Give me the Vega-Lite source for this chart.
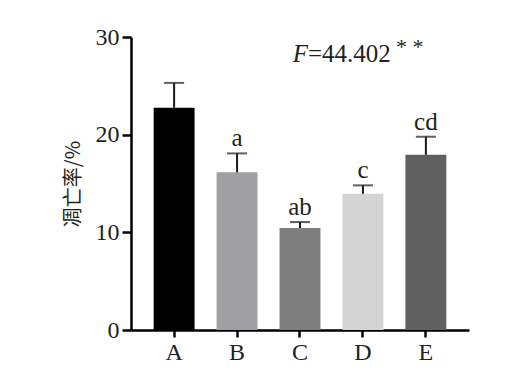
{
  "$schema": "https://vega.github.io/schema/vega-lite/v6.json",
  "autosize": {"type": "none"},
  "padding": {"left": 131, "top": 37, "right": 48, "bottom": 43},
  "width": 338,
  "height": 293,
  "background": "white",
  "config": {
    "view": {"stroke": null},
    "font": "Liberation Serif",
    "axis": {"grid": false, "domainColor": "#000000", "tickColor": "#000000", "labelColor": "#231f20", "titleColor": "#231f20", "labelFont": "Liberation Serif", "domainWidth": 2.5, "tickWidth": 2.5}
  },
  "layer": [
    {
      "data": {"values": [
        {"group": "A", "value": 22.75, "upper": 25.3, "label": ""},
        {"group": "B", "value": 16.14, "upper": 18.08, "label": "a"},
        {"group": "C", "value": 10.44, "upper": 11.05, "label": "ab"},
        {"group": "D", "value": 13.95, "upper": 14.81, "label": "c"},
        {"group": "E", "value": 17.94, "upper": 19.79, "label": "cd"}
      ]},
      "encoding": {
        "x": {"field": "group", "type": "nominal", "scale": {"paddingInner": 0.35, "paddingOuter": 0.36},
              "axis": {"title": null, "labelAngle": 0, "labelFont": "Liberation Serif", "labelFontSize": 24, "tickSize": 7, "labelPadding": 3}},
        "y": {"type": "quantitative", "scale": {"domain": [0, 30], "nice": false},
              "axis": {"values": [0, 10, 20, 30], "title": "凋亡率/%", "titleFont": "Noto Sans CJK SC", "titleFontWeight": "normal", "titleFontSize": 20, "titlePadding": 12, "labelFont": "Liberation Serif", "labelFontSize": 24, "tickSize": 9, "labelPadding": 3}}
      },
      "layer": [
        {
          "mark": {"type": "bar"},
          "encoding": {
            "y": {"field": "value", "type": "quantitative"},
            "color": {"field": "group", "type": "nominal", "legend": null,
                      "scale": {"domain": ["A", "B", "C", "D", "E"], "range": ["#000000", "#a0a0a4", "#7f7f7f", "#d4d4d4", "#606060"]}}
          }
        },
        {
          "mark": {"type": "rule", "color": "#1a1a1a", "strokeWidth": 2},
          "encoding": {
            "y": {"field": "value", "type": "quantitative"},
            "y2": {"field": "upper"}
          }
        },
        {
          "mark": {"type": "tick", "color": "#1a1a1a", "size": 20, "thickness": 2},
          "encoding": {
            "y": {"field": "upper", "type": "quantitative"}
          }
        },
        {
          "mark": {"type": "text", "fontSize": 25, "baseline": "alphabetic", "dy": -7, "color": "#231f20", "font": "Liberation Serif"},
          "encoding": {
            "y": {"field": "upper", "type": "quantitative"},
            "text": {"field": "label"}
          }
        }
      ]
    },
    {
      "data": {"values": [{"group": "D", "y": 27.45}]},
      "encoding": {
        "x": {"field": "group", "type": "nominal"},
        "y": {"field": "y", "type": "quantitative"}
      },
      "layer": [
        {"mark": {"type": "text", "text": "F", "fontStyle": "italic", "fontSize": 25, "align": "right", "baseline": "alphabetic", "dx": -55, "color": "#231f20", "font": "Liberation Serif"}},
        {"mark": {"type": "text", "text": "=44.402", "fontSize": 25, "align": "left", "baseline": "alphabetic", "dx": -55, "color": "#231f20", "font": "Liberation Serif"}},
        {"mark": {"type": "text", "text": "* *", "fontSize": 22, "align": "left", "baseline": "alphabetic", "dx": 33, "dy": -8, "color": "#231f20", "font": "Liberation Serif"}}
      ]
    }
  ]
}
